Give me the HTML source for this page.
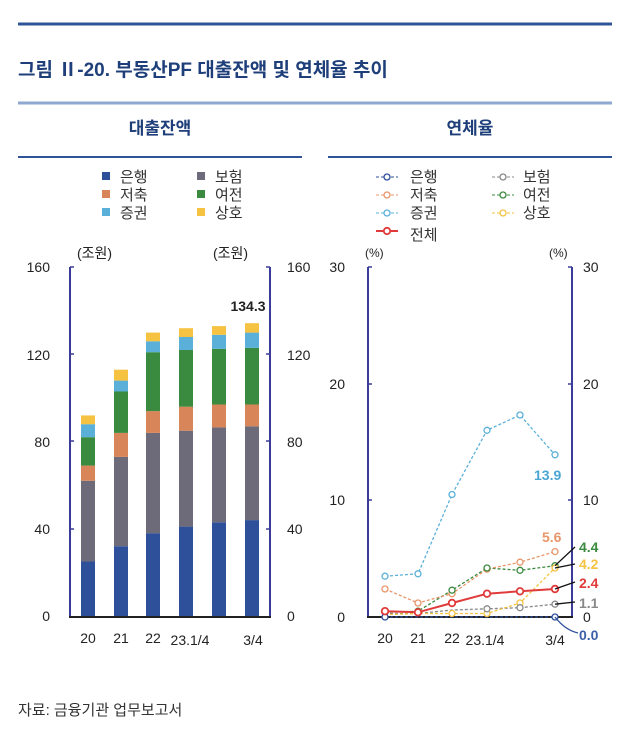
<!DOCTYPE html>
<html><head><meta charset="utf-8"><style>
html,body{margin:0;padding:0;background:#fff;}
svg{display:block;font-family:"Liberation Sans","Noto Sans CJK KR",sans-serif;}
</style></head><body>
<svg width="628" height="732" viewBox="0 0 628 732" xmlns="http://www.w3.org/2000/svg">
<line x1="18" y1="24" x2="612" y2="24" stroke="#2f5597" stroke-width="3"/>
<text x="18" y="76" font-size="19" font-weight="bold" fill="#1f3f7a" font-family="Liberation Sans,'Noto Sans CJK KR',sans-serif">그림 Ⅱ-20. 부동산PF 대출잔액 및 연체율 추이</text>
<line x1="18" y1="103" x2="612" y2="103" stroke="#8ea9cf" stroke-width="3"/>
<text x="160" y="134" font-size="17" font-weight="bold" fill="#1f3f7a" text-anchor="middle">대출잔액</text>
<text x="470" y="134" font-size="17" font-weight="bold" fill="#1f3f7a" text-anchor="middle">연체율</text>
<line x1="18" y1="157" x2="302" y2="157" stroke="#2f5597" stroke-width="2"/>
<line x1="328" y1="157" x2="612" y2="157" stroke="#2f5597" stroke-width="2"/>

<!-- left legend -->
<g font-size="15" fill="#333">
<rect x="102" y="172" width="8" height="8" fill="#2e4f9a"/><text x="120" y="182">은행</text>
<rect x="102" y="190" width="8" height="8" fill="#d9855a"/><text x="120" y="200">저축</text>
<rect x="102" y="208" width="8" height="8" fill="#5ab0d8"/><text x="120" y="218">증권</text>
<rect x="197" y="172" width="8" height="8" fill="#6d6b7a"/><text x="215" y="182">보험</text>
<rect x="197" y="190" width="8" height="8" fill="#3a8a3f"/><text x="215" y="200">여전</text>
<rect x="197" y="208" width="8" height="8" fill="#f5c242"/><text x="215" y="218">상호</text>
</g>

<!-- left axes -->
<g font-size="14" fill="#222">
<text x="50" y="272" text-anchor="end">160</text>
<text x="50" y="360" text-anchor="end">120</text>
<text x="50" y="447" text-anchor="end">80</text>
<text x="50" y="534" text-anchor="end">40</text>
<text x="50" y="621" text-anchor="end">0</text>
<text x="287" y="272">160</text>
<text x="287" y="360">120</text>
<text x="287" y="447">80</text>
<text x="287" y="534">40</text>
<text x="287" y="621">0</text>
<text x="77" y="258">(조원)</text>
<text x="213" y="258">(조원)</text>
<text x="88" y="643" text-anchor="middle">20</text>
<text x="121" y="643" text-anchor="middle">21</text>
<text x="153" y="643" text-anchor="middle">22</text>
<text x="190" y="645" text-anchor="middle">23.1/4</text>
<text x="253" y="645" text-anchor="middle">3/4</text>
<text x="248" y="311" text-anchor="middle" font-weight="bold">134.3</text>
</g>
<line x1="70" y1="267" x2="70" y2="617" stroke="#3b3b9a" stroke-width="2"/>
<line x1="270" y1="267" x2="270" y2="617" stroke="#3b3b9a" stroke-width="2"/>
<g stroke="#3b3b9a" stroke-width="1.5">
<line x1="70" y1="267" x2="74" y2="267"/><line x1="70" y1="354" x2="74" y2="354"/><line x1="70" y1="441" x2="74" y2="441"/><line x1="70" y1="529" x2="74" y2="529"/>
<line x1="266" y1="267" x2="270" y2="267"/><line x1="266" y1="354" x2="270" y2="354"/><line x1="266" y1="441" x2="270" y2="441"/><line x1="266" y1="529" x2="270" y2="529"/>
</g>

<!-- bars -->
<g>
<rect x="81" y="561.5" width="14" height="54.5" fill="#2e4f9a"/>
<rect x="81" y="480.8" width="14" height="80.7" fill="#6d6b7a"/>
<rect x="81" y="465.6" width="14" height="15.2" fill="#d9855a"/>
<rect x="81" y="437.2" width="14" height="28.4" fill="#3a8a3f"/>
<rect x="81" y="424.2" width="14" height="13" fill="#5ab0d8"/>
<rect x="81" y="415.4" width="14" height="8.8" fill="#f5c242"/>

<rect x="114" y="546.2" width="14" height="69.8" fill="#2e4f9a"/>
<rect x="114" y="456.9" width="14" height="89.3" fill="#6d6b7a"/>
<rect x="114" y="432.9" width="14" height="24" fill="#d9855a"/>
<rect x="114" y="391.5" width="14" height="41.4" fill="#3a8a3f"/>
<rect x="114" y="380.6" width="14" height="10.9" fill="#5ab0d8"/>
<rect x="114" y="369.7" width="14" height="10.9" fill="#f5c242"/>

<rect x="146" y="533.2" width="14" height="82.8" fill="#2e4f9a"/>
<rect x="146" y="432.9" width="14" height="100.3" fill="#6d6b7a"/>
<rect x="146" y="411.1" width="14" height="21.8" fill="#d9855a"/>
<rect x="146" y="352.2" width="14" height="58.9" fill="#3a8a3f"/>
<rect x="146" y="341.3" width="14" height="10.9" fill="#5ab0d8"/>
<rect x="146" y="332.6" width="14" height="8.7" fill="#f5c242"/>

<rect x="179" y="526.6" width="14" height="89.4" fill="#2e4f9a"/>
<rect x="179" y="430.7" width="14" height="95.9" fill="#6d6b7a"/>
<rect x="179" y="406.7" width="14" height="24" fill="#d9855a"/>
<rect x="179" y="350" width="14" height="56.7" fill="#3a8a3f"/>
<rect x="179" y="337" width="14" height="13" fill="#5ab0d8"/>
<rect x="179" y="328.2" width="14" height="8.8" fill="#f5c242"/>

<rect x="212" y="522.3" width="14" height="93.7" fill="#2e4f9a"/>
<rect x="212" y="427.4" width="14" height="94.9" fill="#6d6b7a"/>
<rect x="212" y="404.5" width="14" height="22.9" fill="#d9855a"/>
<rect x="212" y="348.9" width="14" height="55.6" fill="#3a8a3f"/>
<rect x="212" y="334.8" width="14" height="14.1" fill="#5ab0d8"/>
<rect x="212" y="326.1" width="14" height="8.7" fill="#f5c242"/>

<rect x="245" y="520.1" width="14" height="95.9" fill="#2e4f9a"/>
<rect x="245" y="426.3" width="14" height="93.8" fill="#6d6b7a"/>
<rect x="245" y="404.5" width="14" height="21.8" fill="#d9855a"/>
<rect x="245" y="347.9" width="14" height="56.6" fill="#3a8a3f"/>
<rect x="245" y="332.6" width="14" height="15.3" fill="#5ab0d8"/>
<rect x="245" y="323.2" width="14" height="9.4" fill="#f5c242"/>
</g>
<line x1="69" y1="617" x2="271" y2="617" stroke="#222" stroke-width="2"/>

<!-- right legend -->
<g font-size="15" fill="#333">
<line x1="376" y1="177" x2="398" y2="177" stroke="#2e4f9a" stroke-dasharray="3,2"/><circle cx="387" cy="177" r="3" fill="#fff" stroke="#2e4f9a" stroke-width="1.3"/><text x="410" y="182">은행</text>
<line x1="376" y1="195" x2="398" y2="195" stroke="#e8956a" stroke-dasharray="3,2"/><circle cx="387" cy="195" r="3" fill="#fff" stroke="#e8956a" stroke-width="1.3"/><text x="410" y="200">저축</text>
<line x1="376" y1="213" x2="398" y2="213" stroke="#5ab0d8" stroke-dasharray="3,2"/><circle cx="387" cy="213" r="3" fill="#fff" stroke="#5ab0d8" stroke-width="1.3"/><text x="410" y="218">증권</text>
<line x1="376" y1="231" x2="398" y2="231" stroke="#e03a3a" stroke-width="2"/><circle cx="387" cy="231" r="3.2" fill="#fff" stroke="#e03a3a" stroke-width="1.8"/><text x="410" y="240">전체</text>
<line x1="492" y1="177" x2="514" y2="177" stroke="#888" stroke-dasharray="3,2"/><circle cx="503" cy="177" r="3" fill="#fff" stroke="#888" stroke-width="1.3"/><text x="523" y="182">보험</text>
<line x1="492" y1="195" x2="514" y2="195" stroke="#3a8a3f" stroke-dasharray="3,2"/><circle cx="503" cy="195" r="3" fill="#fff" stroke="#3a8a3f" stroke-width="1.3"/><text x="523" y="200">여전</text>
<line x1="492" y1="213" x2="514" y2="213" stroke="#f5c242" stroke-dasharray="3,2"/><circle cx="503" cy="213" r="3" fill="#fff" stroke="#f5c242" stroke-width="1.3"/><text x="523" y="218">상호</text>
</g>

<!-- right axes -->
<g font-size="14" fill="#222">
<text x="345" y="272" text-anchor="end">30</text>
<text x="345" y="389" text-anchor="end">20</text>
<text x="345" y="505" text-anchor="end">10</text>
<text x="345" y="622" text-anchor="end">0</text>
<text x="583" y="272">30</text>
<text x="583" y="389">20</text>
<text x="583" y="505">10</text>
<text x="583" y="622">0</text>
<text x="365" y="257" font-size="12">(%)</text>
<text x="549" y="257" font-size="12">(%)</text>
<text x="385" y="643" text-anchor="middle">20</text>
<text x="418" y="643" text-anchor="middle">21</text>
<text x="452" y="643" text-anchor="middle">22</text>
<text x="485" y="645" text-anchor="middle">23.1/4</text>
<text x="555" y="645" text-anchor="middle">3/4</text>
</g>
<line x1="368" y1="267" x2="368" y2="617" stroke="#3b3b9a" stroke-width="2"/>
<line x1="572" y1="267" x2="572" y2="617" stroke="#3b3b9a" stroke-width="2"/>
<g stroke="#3b3b9a" stroke-width="1.5">
<line x1="368" y1="267" x2="372" y2="267"/><line x1="368" y1="384" x2="372" y2="384"/><line x1="368" y1="500" x2="372" y2="500"/>
<line x1="568" y1="267" x2="572" y2="267"/><line x1="568" y1="384" x2="572" y2="384"/><line x1="568" y1="500" x2="572" y2="500"/>
</g>
<line x1="367" y1="617" x2="573" y2="617" stroke="#222" stroke-width="2"/>

<!-- series -->
<g fill="#fff" stroke-width="1.3">
<polyline points="385,617 418,617 452,617 487,617 520,617 555,617" fill="none" stroke="#2e4f9a" stroke-dasharray="3,2"/>
<polyline points="385,613.5 418,613.5 452,610 487,608.8 520,607.7 555,604.2" fill="none" stroke="#888" stroke-dasharray="3,2"/>
<polyline points="385,614.7 418,613.5 452,613.5 487,613.5 520,603 555,568" fill="none" stroke="#f5c242" stroke-dasharray="3,2"/>
<polyline points="385,612.3 418,611.2 452,590.2 487,568 520,570.3 555,565.7" fill="none" stroke="#3a8a3f" stroke-dasharray="3,2"/>
<polyline points="385,589 418,603 452,593.7 487,569.2 520,562.2 555,551.6" fill="none" stroke="#e8956a" stroke-dasharray="3,2"/>
<polyline points="385,576.2 418,573.8 452,494.5 487,430.3 520,415 555,454.8" fill="none" stroke="#5ab0d8" stroke-dasharray="3,2"/>
<polyline points="385,611.2 418,612.3 452,603 487,593.7 520,591.3 555,589" fill="none" stroke="#e03a3a" stroke-width="2"/>
<g stroke="#5ab0d8"><circle cx="385" cy="576.2" r="3"/><circle cx="418" cy="573.8" r="3"/><circle cx="452" cy="494.5" r="3"/><circle cx="487" cy="430.3" r="3"/><circle cx="520" cy="415" r="3"/><circle cx="555" cy="454.8" r="3"/></g>
<g stroke="#e8956a"><circle cx="385" cy="589" r="3"/><circle cx="418" cy="603" r="3"/><circle cx="452" cy="593.7" r="3"/><circle cx="487" cy="569.2" r="3"/><circle cx="520" cy="562.2" r="3"/><circle cx="555" cy="551.6" r="3"/></g>
<g stroke="#3a8a3f"><circle cx="385" cy="612.3" r="3"/><circle cx="418" cy="611.2" r="3"/><circle cx="452" cy="590.2" r="3"/><circle cx="487" cy="568" r="3"/><circle cx="520" cy="570.3" r="3"/><circle cx="555" cy="565.7" r="3"/></g>
<g stroke="#f5c242"><circle cx="452" cy="613.5" r="3"/><circle cx="487" cy="613.5" r="3"/><circle cx="520" cy="603" r="3"/><circle cx="555" cy="568" r="3"/></g>
<g stroke="#888"><circle cx="487" cy="608.8" r="3"/><circle cx="520" cy="607.7" r="3"/><circle cx="555" cy="604.2" r="3"/></g>
<g stroke="#2e4f9a"><circle cx="385" cy="617" r="3"/><circle cx="555" cy="617" r="3"/></g>
<g stroke="#e03a3a" stroke-width="1.8"><circle cx="385" cy="611.2" r="3.3"/><circle cx="418" cy="612.3" r="3.3"/><circle cx="452" cy="603" r="3.3"/><circle cx="487" cy="593.7" r="3.3"/><circle cx="520" cy="591.3" r="3.3"/><circle cx="555" cy="589" r="3.3"/></g>
</g>

<!-- leaders -->
<g stroke="#111" stroke-width="1.3" fill="none">
<line x1="555" y1="565.7" x2="575" y2="547"/>
<line x1="555" y1="568" x2="575" y2="564"/>
<line x1="555" y1="589" x2="575" y2="582"/>
<line x1="555" y1="604.2" x2="575" y2="602"/>
</g>
<path d="M555,617 Q565,630 578,633" stroke="#2e4f9a" stroke-width="1.3" fill="none"/>
<g font-size="14" font-weight="bold">
<text x="534" y="480" fill="#4aa6d4">13.9</text>
<text x="542" y="542" fill="#e8956a">5.6</text>
<text x="579" y="552" fill="#3a8a3f">4.4</text>
<text x="579" y="569" fill="#f5c242">4.2</text>
<text x="579" y="588" fill="#e03a3a">2.4</text>
<text x="579" y="608" fill="#888">1.1</text>
<text x="579" y="640" fill="#3b5fa8">0.0</text>
</g>

<text x="18" y="715" font-size="15" fill="#333">자료: 금융기관 업무보고서</text>
</svg>
</body></html>
